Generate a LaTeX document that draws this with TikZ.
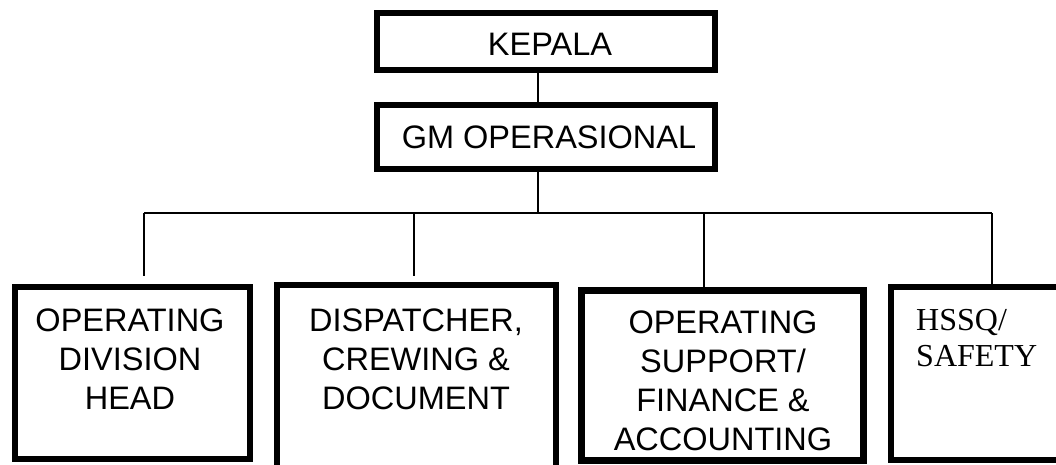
\documentclass[tikz,border=0pt]{standalone}
\usepackage{fontspec}
\setmainfont{Liberation Sans}
\newfontfamily\tnr{Liberation Serif}
\begin{document}
\begin{tikzpicture}[x=1pt,y=-1pt,
  box/.style={draw=black,line width=6.5pt,fill=white,inner sep=0pt},
  lbl/.style={inner sep=0pt,align=center,font=\fontsize{32.5}{39}\selectfont},
  conn/.style={draw=black,line width=1.2pt}]
\useasboundingbox (0,0) rectangle (1056,464);
\clip (0,0) rectangle (1056,464);
\fill[white] (0,0) rectangle (1056,464);
% boxes
\node[box,minimum width=338pt,minimum height=57pt] (kep) at (546,41.5) {};
\node[box,minimum width=338pt,minimum height=64pt] (gm) at (546,137) {};
\node[box,minimum width=235pt,minimum height=172pt] (b1) at (132.5,373) {};
\node[box,minimum width=279pt,minimum height=195pt] (b2) at (416.5,382.5) {};
\node[box,minimum width=282pt,minimum height=170pt] (b3) at (722.5,375.5) {};
\node[box,minimum width=189pt,minimum height=173pt] (b4) at (985.5,373.5) {};
% texts
\node[lbl,anchor=base] (tkep) at (550,55) {KEPALA};
\node[lbl,anchor=base] (tgm) at (549,148) {GM OPERASIONAL};
\node[lbl,anchor=north] (t1) at (130,309) {OPERATING\\DIVISION\\HEAD};
\node[lbl,anchor=north] (t2) at (416,309) {DISPATCHER,\\CREWING \&\\DOCUMENT};
\node[lbl,anchor=north] (t3) at (723,310.5) {OPERATING\\SUPPORT/\\FINANCE \&\\ACCOUNTING};
\node[inner sep=0pt,align=left,anchor=north west,font=\tnr\fontsize{32}{36}\selectfont] (t4) at (916,309.5) {HSSQ/\\SAFETY};
% connectors
\coordinate (j) at (538,213);
\coordinate (hl) at (144,213);
\coordinate (hr) at (992,213);
\coordinate (e1) at (144,276);
\coordinate (s2) at (414,213);
\coordinate (e2) at (414,276);
\coordinate (s3) at (704,213);
\draw[conn] (kep.south -| j) -- (gm.north -| j);
\draw[conn] (gm.south -| j) -- (j);
\draw[conn] (hl) -- (hr);
\draw[conn] (hl) -- (e1);
\draw[conn] (s2) -- (e2);
\draw[conn] (s3) -- (b3.north -| s3);
\draw[conn] (hr) -- (b4.north -| hr);
\end{tikzpicture}
\end{document}
